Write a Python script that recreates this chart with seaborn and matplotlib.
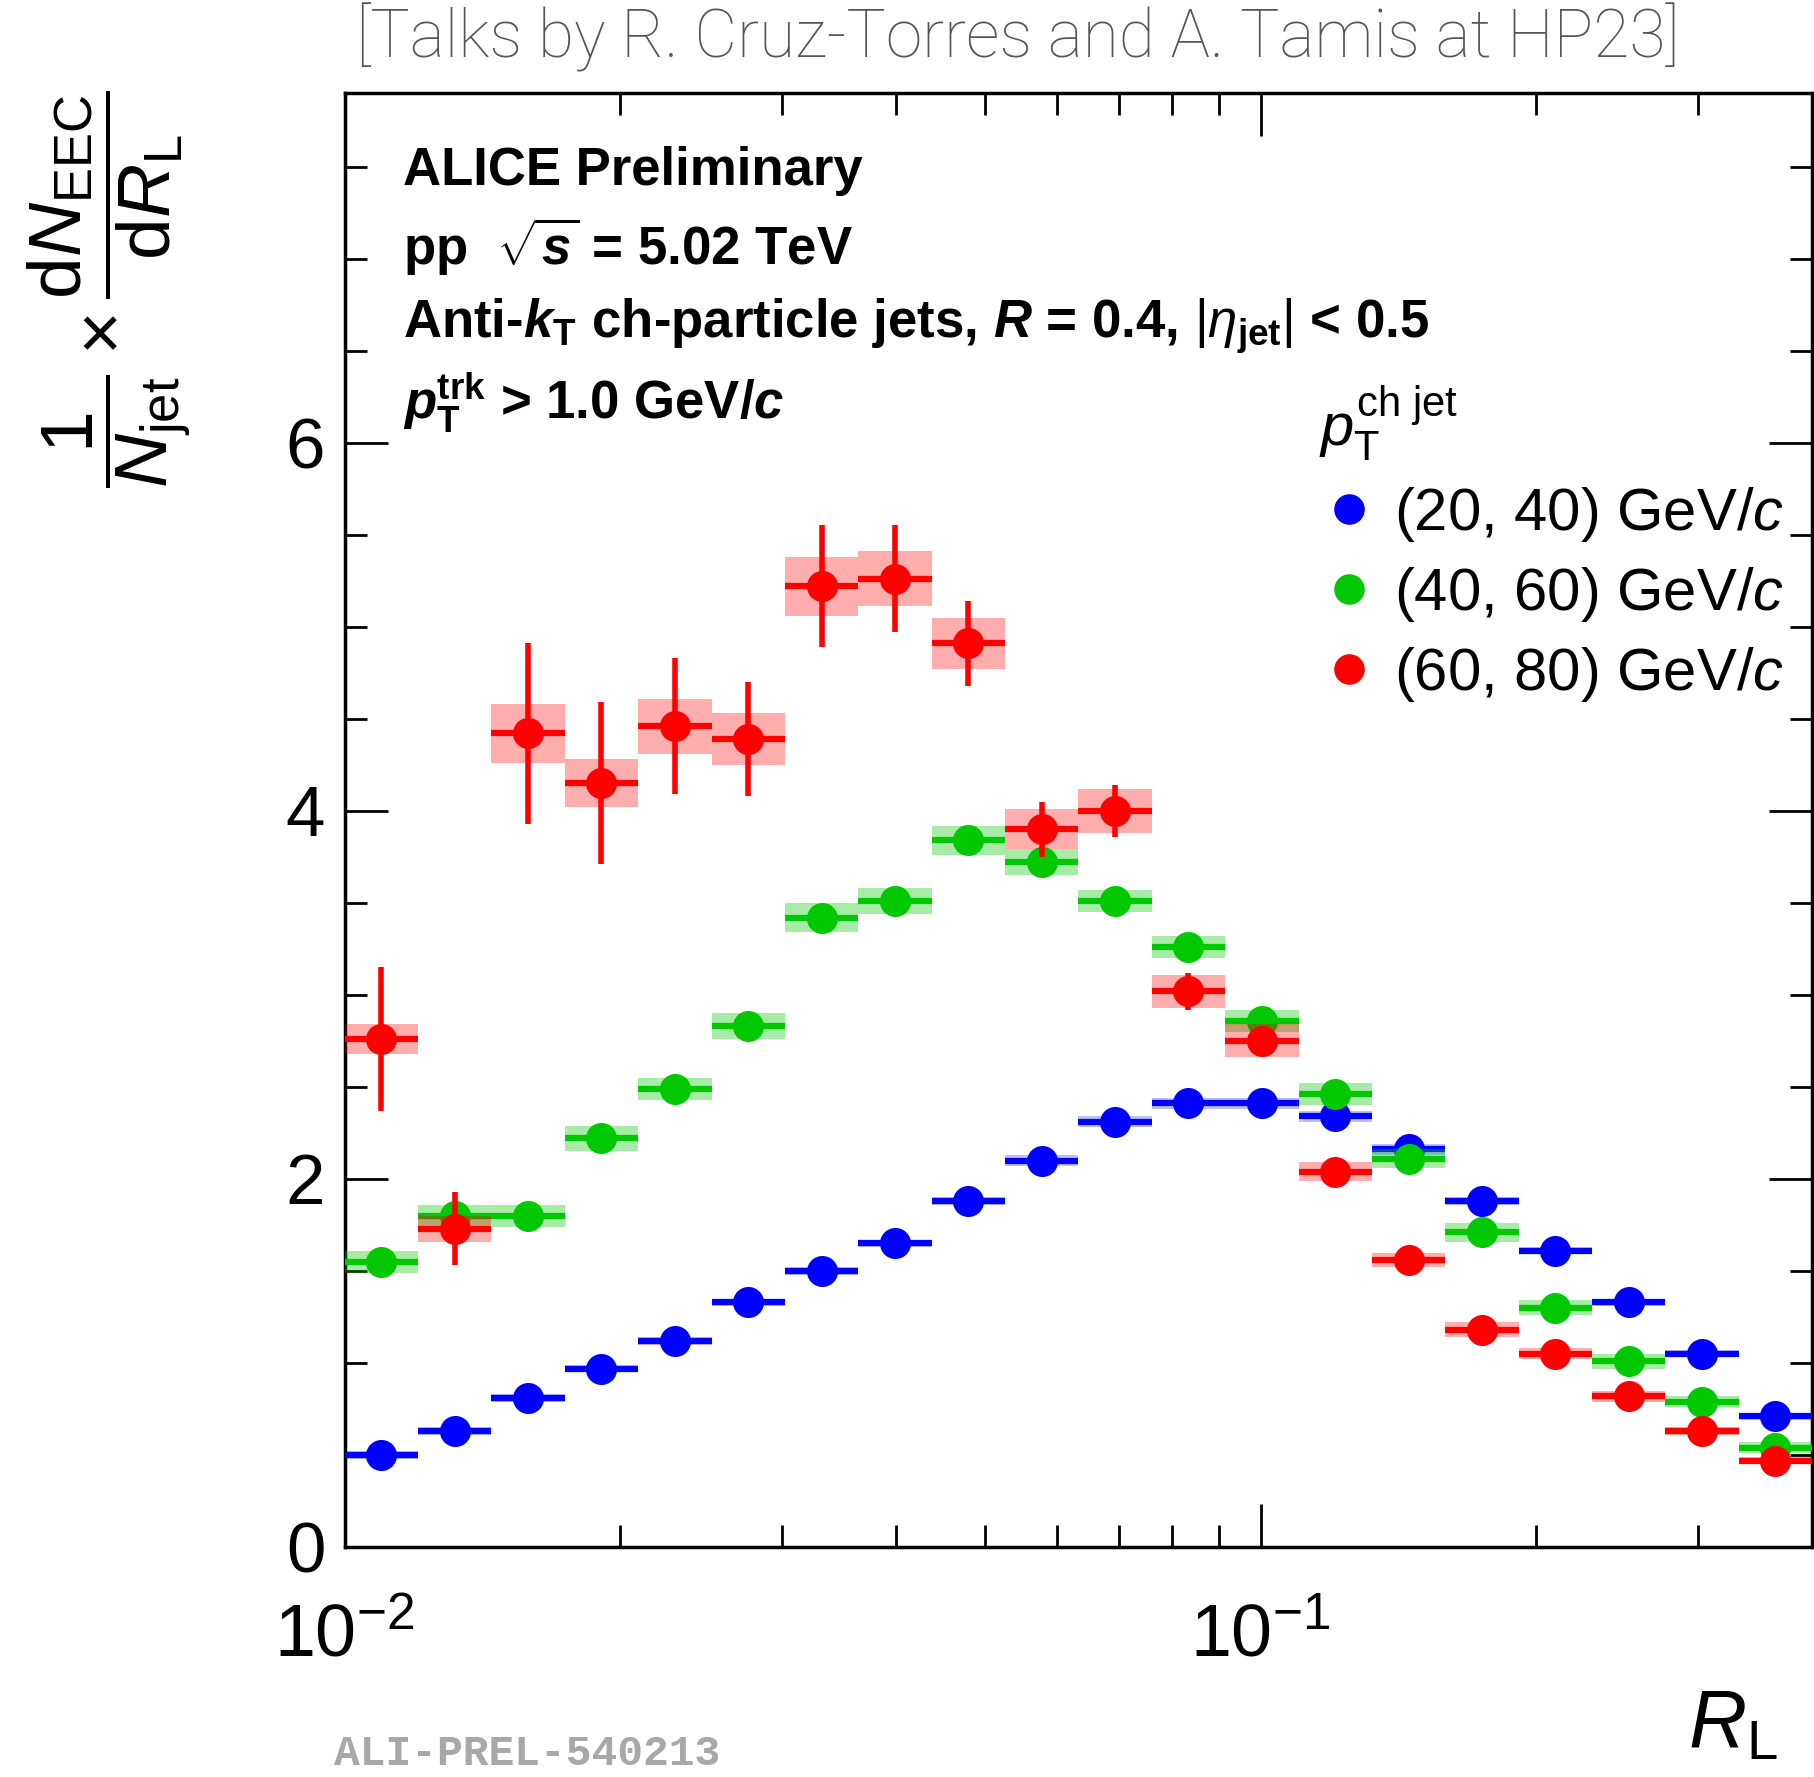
import numpy as np
import pandas as pd
import matplotlib
matplotlib.use("Agg")
import matplotlib.pyplot as plt
import seaborn as sns
from matplotlib.ticker import FixedLocator, FixedFormatter, MultipleLocator, NullFormatter
from matplotlib.lines import Line2D

# ---------------- data ----------------
bin_edges = [0.0100, 0.01202, 0.01446, 0.01739, 0.02091, 0.02515, 0.03024, 0.03637,
             0.04373, 0.05259, 0.06324, 0.07605, 0.09146, 0.10998, 0.13226, 0.15904,
             0.19125, 0.22999, 0.27657, 0.33259, 0.4000]

series_labels = ["(20, 40) GeV/$c$", "(40, 60) GeV/$c$", "(60, 80) GeV/$c$"]

eec_20_40 = [0.50, 0.63, 0.81, 0.97, 1.12, 1.33, 1.50, 1.65, 1.88, 2.10,
             2.31, 2.41, 2.41, 2.34, 2.16, 1.88, 1.61, 1.33, 1.05, 0.71]
stat_20_40 = [0.01, 0.01, 0.01, 0.01, 0.01, 0.01, 0.01, 0.01, 0.01, 0.01,
              0.01, 0.01, 0.01, 0.01, 0.01, 0.01, 0.01, 0.01, 0.01, 0.01]
sys_20_40 = [0.02, 0.02, 0.02, 0.02, 0.02, 0.02, 0.02, 0.02, 0.02, 0.03,
             0.03, 0.03, 0.03, 0.03, 0.03, 0.02, 0.02, 0.02, 0.02, 0.02]

eec_40_60 = [1.55, 1.80, 1.80, 2.22, 2.49, 2.83, 3.42, 3.51, 3.84, 3.72,
             3.51, 3.26, 2.86, 2.46, 2.11, 1.71, 1.30, 1.01, 0.79, 0.54]
stat_40_60 = [0.06, 0.07, 0.06, 0.07, 0.06, 0.06, 0.06, 0.05, 0.04, 0.04,
              0.03, 0.03, 0.02, 0.02, 0.02, 0.01, 0.01, 0.01, 0.01, 0.01]
sys_40_60 = [0.06, 0.06, 0.06, 0.07, 0.06, 0.07, 0.08, 0.07, 0.08, 0.07,
             0.06, 0.06, 0.06, 0.06, 0.05, 0.05, 0.04, 0.04, 0.03, 0.03]

eec_60_80 = [2.76, 1.73, 4.42, 4.15, 4.46, 4.39, 5.22, 5.26, 4.91, 3.90,
             4.00, 3.02, 2.75, 2.04, 1.56, 1.18, 1.05, 0.82, 0.63, 0.47]
stat_60_80 = [0.39, 0.20, 0.49, 0.44, 0.37, 0.31, 0.33, 0.29, 0.23, 0.15,
              0.14, 0.10, 0.06, 0.03, 0.03, 0.02, 0.02, 0.02, 0.02, 0.02]
sys_60_80 = [0.08, 0.07, 0.16, 0.13, 0.15, 0.14, 0.16, 0.15, 0.14, 0.11,
             0.12, 0.09, 0.09, 0.05, 0.04, 0.04, 0.03, 0.03, 0.02, 0.02]

colors = ["#0000ff", "#00c800", "#ff0000"]
box_alpha = [0.25, 0.35, 0.32]

# ---------------- style ----------------
sns.set_style("ticks")
plt.rcParams["font.family"] = ["Liberation Sans", "DejaVu Sans"]
plt.rcParams["text.color"] = "black"
plt.rcParams["axes.labelcolor"] = "black"
plt.rcParams["xtick.color"] = "black"
plt.rcParams["ytick.color"] = "black"
plt.rcParams["mathtext.fontset"] = "custom"
plt.rcParams["mathtext.rm"] = "Liberation Sans"
plt.rcParams["mathtext.it"] = "Liberation Sans:italic"
plt.rcParams["mathtext.bf"] = "Liberation Sans:bold"
plt.rcParams["mathtext.bfit"] = "Liberation Sans:italic:bold"

fig = plt.figure(figsize=(18.14, 17.77), dpi=100)
ax = fig.add_axes([0.190, 0.1294, 0.809, 0.8183])

edges = np.array(bin_edges)
lo, hi = edges[:-1], edges[1:]
centers = np.sqrt(lo * hi)

frames = []
all_vals = [(eec_20_40, stat_20_40, sys_20_40),
            (eec_40_60, stat_40_60, sys_40_60),
            (eec_60_80, stat_60_80, sys_60_80)]
for lab, (v, st, sy) in zip(series_labels, all_vals):
    frames.append(pd.DataFrame({"RL": centers, "lo": lo, "hi": hi, "val": v,
                                "stat": st, "sys": sy, "bin": lab}))
df = pd.concat(frames, ignore_index=True)

for i, lab in enumerate(series_labels):
    d = df[df["bin"] == lab]
    z = 2 + 3 * i
    ax.bar(d["lo"], 2 * d["sys"], width=d["hi"] - d["lo"], bottom=d["val"] - d["sys"],
           align="edge", color=colors[i], alpha=box_alpha[i], linewidth=0, zorder=z)
    ax.hlines(d["val"], d["lo"], d["hi"], color=colors[i], lw=4.5, zorder=z + 1)
    ax.vlines(d["RL"], d["val"] - d["stat"], d["val"] + d["stat"], color=colors[i],
              lw=4.0, zorder=z + 1)
    sns.scatterplot(data=d, x="RL", y="val", color=colors[i], s=500, linewidth=0,
                    marker="o", ax=ax, zorder=z + 2, legend=False)

ax.set_xscale("log")
ax.set_xlim(0.01, 0.4)
ax.set_ylim(0, 7.9)
ax.set_xlabel("")
ax.set_ylabel("")

ax.xaxis.set_major_locator(FixedLocator([0.01, 0.1]))
ax.xaxis.set_major_formatter(FixedFormatter([r"$10^{-2}$", r"$10^{-1}$"]))
ax.xaxis.set_minor_locator(FixedLocator([0.02, 0.03, 0.04, 0.05, 0.06, 0.07, 0.08, 0.09, 0.2, 0.3]))
ax.xaxis.set_minor_formatter(NullFormatter())
ax.yaxis.set_major_locator(FixedLocator([0, 2, 4, 6]))
ax.yaxis.set_minor_locator(MultipleLocator(0.5))

ax.tick_params(which="both", direction="in", top=True, right=True, width=2.0, color="black")
ax.tick_params(which="major", length=31)
ax.tick_params(which="minor", length=16)
ax.tick_params(axis="y", which="major", labelsize=51, pad=14, labelcolor="black")
ax.tick_params(axis="x", which="major", labelsize=53, pad=40, labelcolor="black")
for s in ax.spines.values():
    s.set_linewidth(2.5)
    s.set_color("black")

# in-plot texts
fs = 38
ax.text(0.0395, 0.937, "ALICE Preliminary", transform=ax.transAxes, fontsize=fs,
        fontweight="bold", va="baseline", ha="left", color="black")
ax.text(0.0395, 0.882, r"pp  $\sqrt{\mathbfit{s}}$ = 5.02 TeV", transform=ax.transAxes,
        fontsize=fs, fontweight="bold", va="baseline", ha="left", color="black")
ax.text(0.0395, 0.832,
        r"Anti-$\mathbfit{k}_{\mathbf{T}}$ ch-particle jets, $\mathbfit{R}$ = 0.4, $|\eta_{\mathbf{jet}}|$ < 0.5",
        transform=ax.transAxes, fontsize=fs, fontweight="bold", va="baseline", ha="left",
        color="black")
ax.text(0.0395, 0.776, r"$\mathbfit{p}_{\mathbf{T}}^{\mathbf{trk}}$ > 1.0 GeV/$\mathbfit{c}$",
        transform=ax.transAxes, fontsize=fs, fontweight="bold", va="baseline", ha="left",
        color="black")

# legend
handles = [Line2D([], [], linestyle="none", marker="o", markersize=22, color=c,
                  markeredgewidth=0) for c in colors]
leg = ax.legend(handles, series_labels, title=r"$p_{\mathrm{T}}^{\mathrm{ch\ jet}}$",
                loc="upper left", bbox_to_anchor=(0.664, 0.800), frameon=False,
                fontsize=43, title_fontsize=43, alignment="left", borderpad=0,
                borderaxespad=0, handlelength=1.0, handletextpad=0.25, labelspacing=0.35)
for t in leg.get_texts():
    t.set_color("black")
leg.get_title().set_color("black")

# axis titles
fig.text(0.0606, 0.837,
         r"$\dfrac{1}{N_{\mathrm{jet}}}\times\dfrac{\mathrm{d}N_{\mathrm{EEC}}}{\mathrm{d}R_{\mathrm{L}}}$",
         rotation=90, ha="center", va="center", fontsize=54, color="black")
fig.text(0.980, 0.017, r"$R_{\mathrm{L}}$", ha="right", va="baseline", fontsize=58,
         color="black")

fig.text(0.561, 0.979, "[Talks by R. Cruz-Torres and A. Tamis at HP23]", ha="center",
         va="center", fontsize=47.5, color="#555555", family=["Roboto", "DejaVu Sans"],
         fontweight="light")
fig.text(0.184, 0.0065, "ALI-PREL-540213", ha="left", va="baseline", fontsize=31,
         color="#a8a8a8", family=["Liberation Mono", "DejaVu Sans Mono"], fontweight="bold")

fig.savefig("out.png", dpi=100)
